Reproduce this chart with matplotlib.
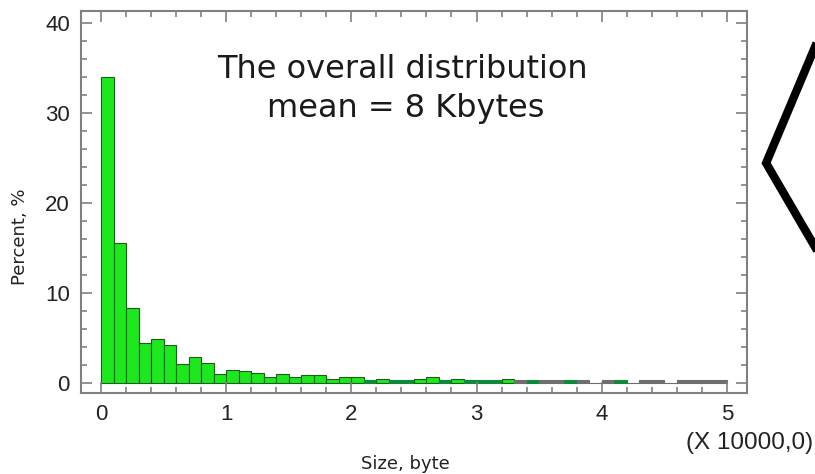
import matplotlib
matplotlib.use("Agg")
import matplotlib.pyplot as plt
from matplotlib.lines import Line2D
from matplotlib.ticker import MultipleLocator

# histogram of object sizes, 1000-byte bins (x axis in units of 10000 bytes)
bin_starts = [i / 10 for i in range(50)]
percent = [34.0, 15.5, 8.3, 4.4, 4.9, 4.2, 2.1, 2.9, 2.2, 1.0,
           1.5, 1.35, 1.15, 0.7, 0.95, 0.7, 0.85, 0.85, 0.5, 0.7,
           0.7, 0.35, 0.45, 0.3, 0.3, 0.5, 0.65, 0.35, 0.5, 0.3,
           0.3, 0.3, 0.45, 0.3, 0.3, 0.3, 0.3, 0.3, 0.3, 0.0,
           0.3, 0.35, 0.0, 0.3, 0.3, 0.0, 0.3, 0.3, 0.3, 0.3]

# bar fill: bright green head, darker green / grey in the tail
G, D, K = "#1de81d", "#0f8a3a", "#6e6e6e"
bar_colors = [G] * 21 + [D, G, D, D, G, G, D, G, D,
                         D, D, G, K, D, K, K, D, K, K,
                         K, D, K, K, K, K, K, K, K, K]
edge_colors = ["#1a5e1a" if c == G else c for c in bar_colors]

x_ticks = [0, 1, 2, 3, 4, 5]
y_ticks = [0, 10, 20, 30, 40]

fig = plt.figure(figsize=(8.15, 4.74), dpi=100)
ax = fig.add_axes([0.0994, 0.171, 0.817, 0.806])

ax.bar(bin_starts, percent, width=0.1, align="edge",
       color=bar_colors, edgecolor=edge_colors, linewidth=0.8)

ax.set_xlim(-0.16, 5.16)
ax.set_ylim(-1.1, 41.3)
ax.set_xticks(x_ticks)
ax.set_yticks(y_ticks)
ax.xaxis.set_minor_locator(MultipleLocator(0.2))
ax.yaxis.set_minor_locator(MultipleLocator(2))
ax.tick_params(which="both", direction="in", top=True, right=True,
               color="#808080", width=1.2)
ax.tick_params(which="major", length=8, pad=8)
ax.tick_params(which="minor", length=4.5)
for lab in ax.get_xticklabels() + ax.get_yticklabels():
    lab.set_fontfamily("Liberation Sans")
    lab.set_fontsize(16)
    lab.set_color("#222222")
for s in ax.spines.values():
    s.set_color("#808080")
    s.set_linewidth(1.5)

ax.text(0.483, 0.825, "The overall distribution", transform=ax.transAxes,
        ha="center", va="baseline", fontsize=23, color="#1a1a1a",
        family="DejaVu Sans")
ax.text(0.487, 0.722, "mean = 8 Kbytes", transform=ax.transAxes,
        ha="center", va="baseline", fontsize=23, color="#1a1a1a",
        family="DejaVu Sans")

fig.text(0.497, 0.022, "Size, byte", ha="center", va="center",
         fontsize=13, family="DejaVu Sans", color="#222222")
fig.text(0.024, 0.5, "Percent, %", ha="center", va="center", rotation=90,
         fontsize=13, family="DejaVu Sans", color="#222222")
fig.text(0.998, 0.066, "(X 10000,0)", ha="right", va="center",
         fontsize=17.5, family="Liberation Sans", color="#222222")

# bracket on the right edge
fig.add_artist(Line2D([1.0, 0.94, 1.0], [0.901, 0.656, 0.479],
                      transform=fig.transFigure, color="black",
                      linewidth=6, solid_joinstyle="miter"))

fig.savefig("out.png", dpi=100)
